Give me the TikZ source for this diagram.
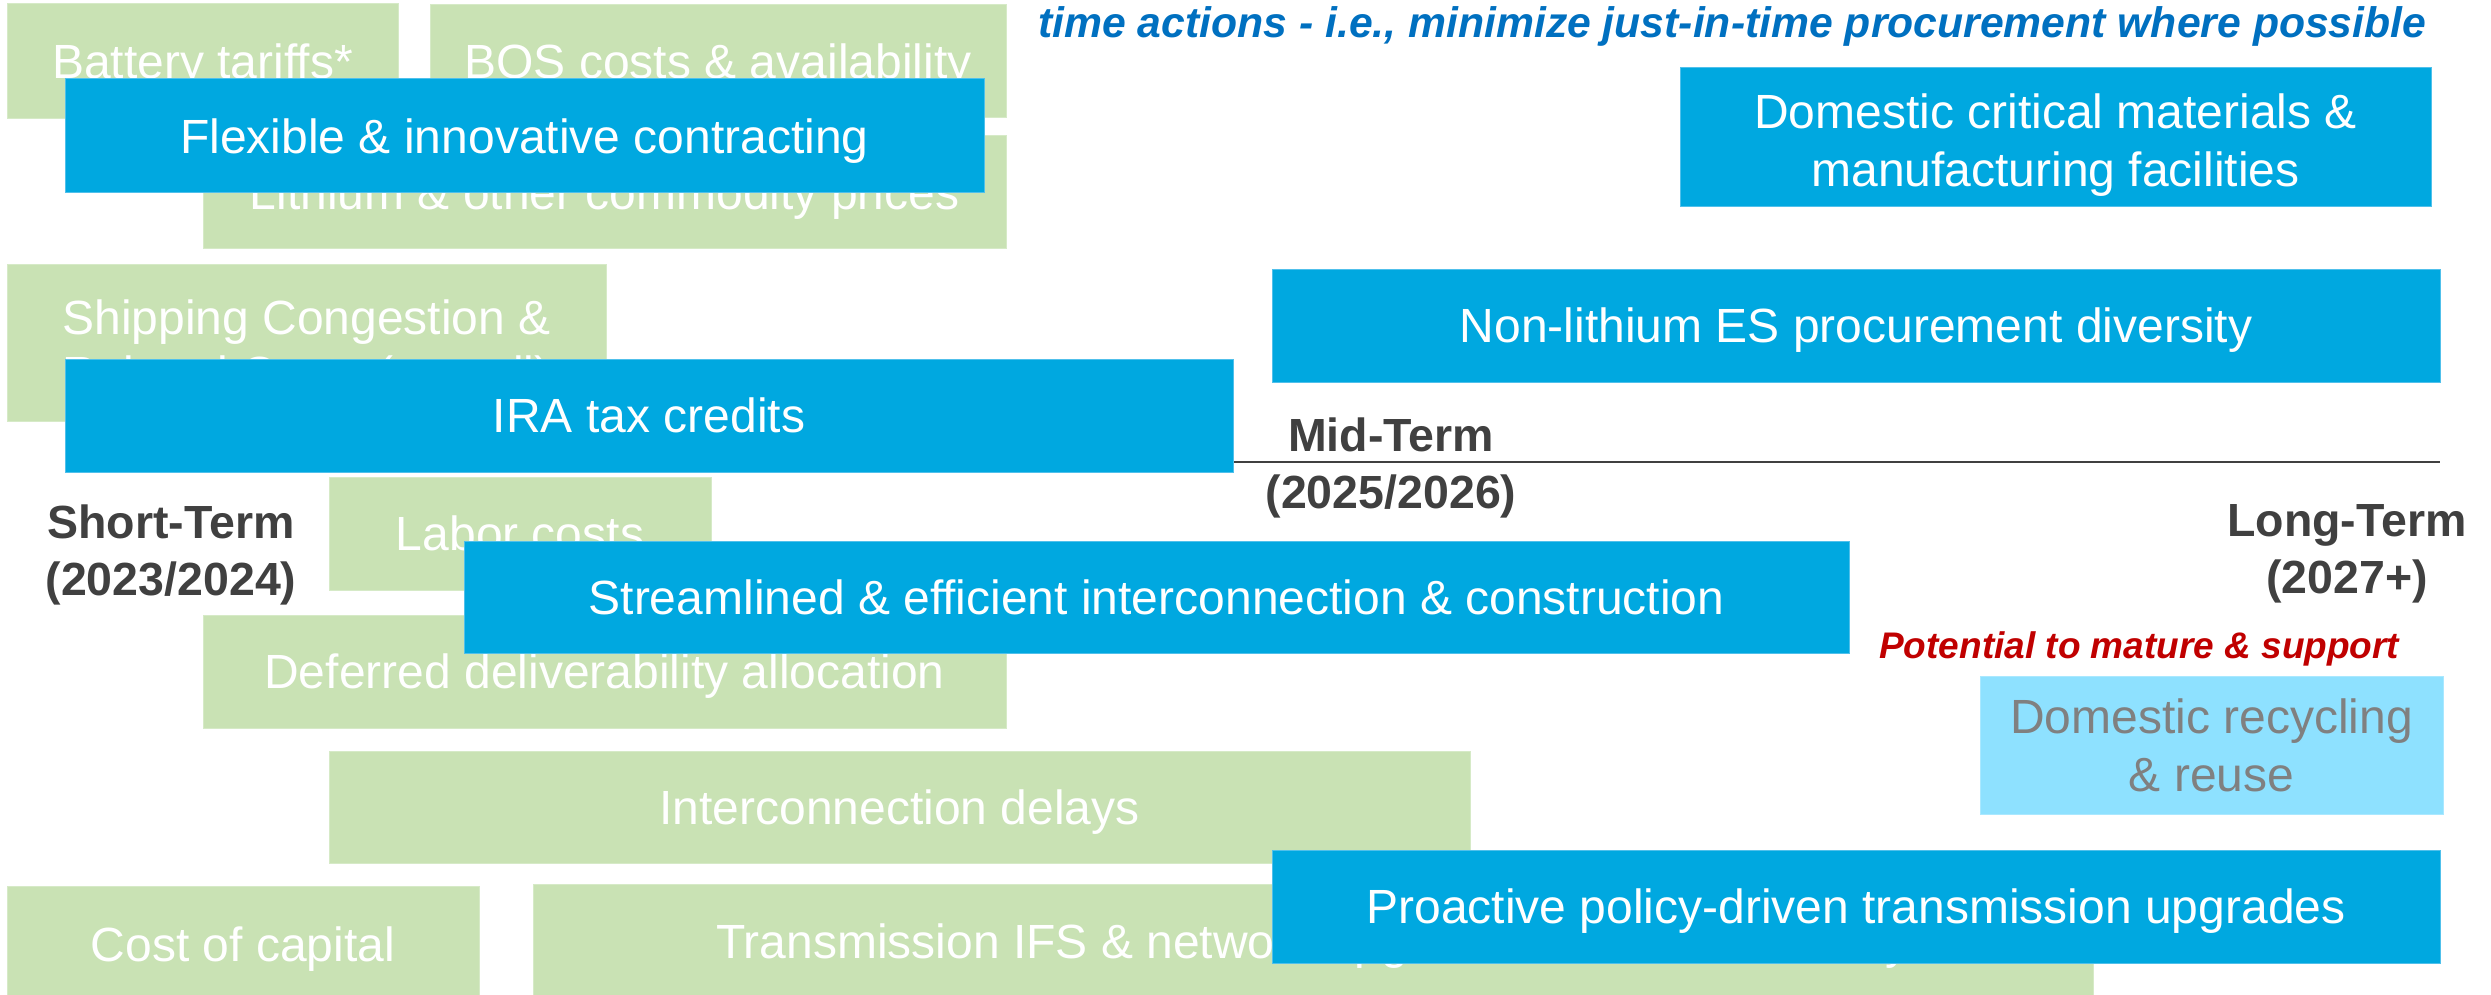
\documentclass[tikz,border=0pt]{standalone}
\usepackage{fontspec}
\setmainfont{Liberation Sans}

\definecolor{riskgreen}{RGB}{201,226,180}
\definecolor{riskedge}{RGB}{214,234,199}
\definecolor{actblue}{RGB}{0,168,224}
\definecolor{actedge}{RGB}{80,192,235}
\definecolor{futblue}{RGB}{142,225,255}
\definecolor{futedge}{RGB}{170,232,255}
\definecolor{futtext}{RGB}{128,128,128}
\definecolor{labelgray}{RGB}{64,64,64}
\definecolor{noteblue}{RGB}{0,112,192}
\definecolor{notered}{RGB}{192,0,0}

\tikzset{
  box/.style={rectangle, inner sep=0pt, outer sep=0pt, align=center,
    line width=1pt, font=\fontsize{48}{58}\selectfont},
  risk/.style={box, fill=riskgreen, draw=riskedge, text=white},
  action/.style={box, fill=actblue, draw=actedge, text=white},
  future/.style={box, fill=futblue, draw=futedge, text=futtext},
  oneline/.style={text height=34.5pt, text depth=0pt},
  sz/.style 2 args={minimum width=#1pt, minimum height=#2pt},
  term/.style={align=center, inner sep=0pt, text=labelgray,
    font=\fontsize{46.5}{57}\selectfont\bfseries},
  timeline/.style={draw=labelgray, line width=2.8pt},
  note/.style={anchor=base west, inner sep=0pt,
    font=\bfseries\itshape}
}
% extra room above the first line of a two-line box, to sit its text a little lower
\newcommand{\toplift}{\rule{0pt}{49pt}}

\begin{document}
\begin{tikzpicture}[x=1pt, y=-1pt]
\useasboundingbox (0,0) rectangle (2491,995);

% risks and cost drivers
\node[risk, oneline, sz={391}{115}]  (battery)  at (202.5,61.5) {Battery tariffs*};
\node[risk, oneline, sz={576}{113}]  (bos)      at (718,61.5)   {BOS costs \& availability};
\node[risk, oneline, sz={803}{112}]  (lithium)  at (604.5,192)  {Lithium \& other commodity prices};
\node[risk, sz={599}{157}, font=\fontsize{48}{56}\selectfont] (shipping) at (306.5,342.5)
  {\toplift Shipping Congestion \&\\Related Costs (overall)};
\node[risk, oneline, sz={382}{113}]  (labor)    at (520,533.5)  {Labor costs};
\node[risk, oneline, sz={803}{113}]  (deferred) at (604.5,671.5) {Deferred deliverability allocation};
\node[risk, oneline, sz={1141}{112}] (icdelay)  at (899.5,807)  {Interconnection delays};
\node[risk, oneline, sz={472}{116}]  (capital)  at (243,944)    {Cost of capital};
\node[risk, oneline, sz={1560}{114}] (transifs) at (1313,941)   {Transmission IFS \& network upgrades cost \& availability};

% time axis
\coordinate (tlend) at (2440,462);
\coordinate (tlstart) at (1233,462);
\draw[timeline] (tlstart) -- (tlend);

% mitigating actions
\node[action, oneline, sz={919}{114}]  (flex)      at (524.5,136)  {Flexible \& innovative contracting};
\node[action, sz={751}{139}]           (domcrit)   at (2055.5,137.5) {\toplift Domestic critical materials \&\\manufacturing facilities};
\node[action, oneline, sz={1168}{113}] (nonli)     at (1856,325.5) {Non-lithium ES procurement diversity};
\node[action, oneline, sz={1168}{113}] (ira)       at (649,415.5)  {IRA tax credits};
\node[action, oneline, sz={1385}{112}] (stream)    at (1156.5,597) {Streamlined \& efficient interconnection \& construction};
\node[action, oneline, sz={1168}{113}] (proactive) at (1856,906.5) {Proactive policy-driven transmission upgrades};
\node[future, sz={463}{138}]           (recycle)   at (2211.5,745) {Domestic recycling\\\& reuse};

% horizon labels (base anchor sits on the second line)
\node[term, anchor=base] (short) at (171,595)  {Short-Term\\(2023/2024)};
\node[term, anchor=base] (mid)   at (1391,508) {Mid-Term\\(2025/2026)};
\node[term, anchor=base] (long)  at (2347,593) {Long-Term\\(2027+)};

% notes
\node[note, text=noteblue, font=\fontsize{42.7}{50}\selectfont\bfseries\itshape] (jit) at (1038,38)
  {time actions - i.e., minimize just-in-time procurement where possible};
\node[note, text=notered, font=\fontsize{37}{44}\selectfont\bfseries\itshape] (mature) at (1879,658)
  {Potential to mature \& support};
\end{tikzpicture}
\end{document}
